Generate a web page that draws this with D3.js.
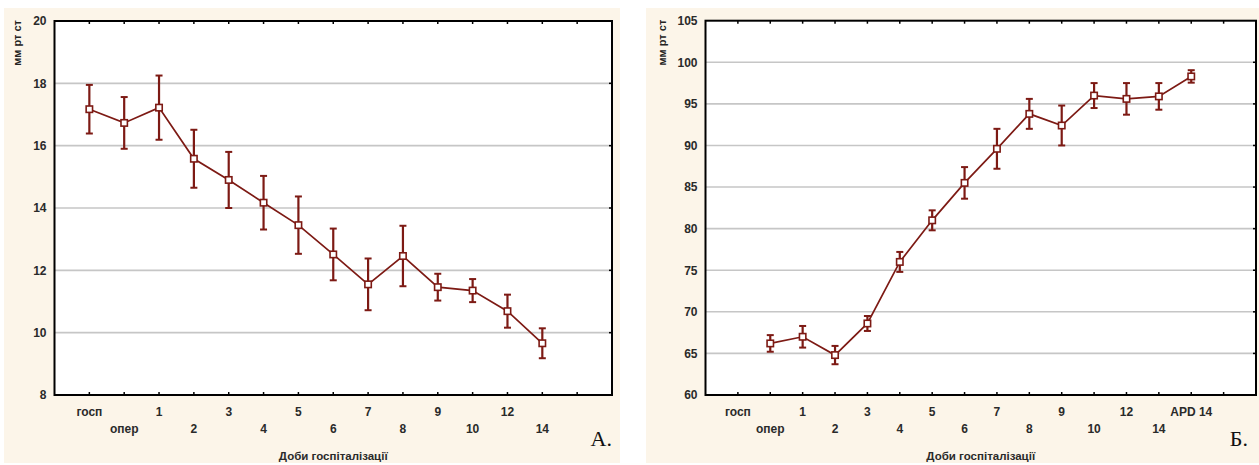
<!DOCTYPE html>
<html><head><meta charset="utf-8">
<script src="https://cdn.jsdelivr.net/npm/d3@7"></script>
<style>
html,body{margin:0;padding:0;background:#fff;}
svg{display:block;}
</style></head>
<body>
<svg id="chart" width="1259" height="465"></svg>
<script>
// ---- Data ----
const categoriesA = ["госп","опер","1","2","3","4","5","6","7","8","9","10","12","14",""];
const meansA  = [17.17,16.73,17.22,15.58,14.90,14.17,13.45,12.51,11.55,12.46,11.46,11.35,10.69,9.66,null];
const errorsA = [0.78,0.83,1.03,0.93,0.90,0.86,0.92,0.83,0.83,0.97,0.43,0.37,0.53,0.48,null];
const yTicksA = [8,10,12,14,16,18,20];

const categoriesB = ["госп","опер","1","2","3","4","5","6","7","8","9","10","12","14","APD 14",""];
const meansB  = [null,66.2,67.0,64.8,68.6,76.0,81.0,85.5,89.6,93.8,92.4,96.0,95.6,95.9,98.3,null];
const errorsB = [null,1.0,1.3,1.1,0.9,1.2,1.2,1.9,2.4,1.8,2.4,1.5,1.9,1.6,0.75,null];
const yTicksB = [60,65,70,75,80,85,90,95,100,105];

const yLabel = "мм рт ст";
const xLabel = "Доби госпіталізації";
const panelLabels = ["А.","Б."];

const svg = d3.select("#chart");
const RED = "#7d1a14";
const SANS = "'Liberation Sans', Arial, sans-serif";
const SERIF = "'Liberation Serif', 'Times New Roman', serif";

function drawPanel(p){
  svg.append("rect").attr("x",p.bg[0]).attr("y",p.bg[1]).attr("width",p.bg[2]).attr("height",p.bg[3]).attr("fill","#fcf5e9");
  const x = d3.scalePoint().domain(p.cats.map((c,i)=>i)).range([p.left,p.right]).padding(1);
  const y = d3.scaleLinear().domain([p.yTicks[0],p.yTicks[p.yTicks.length-1]]).range([p.bottom,p.top]);
  const g = svg.append("g").style("font-family",SANS);
  g.append("rect").attr("x",p.left).attr("y",p.top).attr("width",p.right-p.left).attr("height",p.bottom-p.top).attr("fill","#fff");
  g.selectAll(".grid").data(p.yTicks.slice(1,-1)).join("line")
    .attr("x1",p.left).attr("x2",p.right).attr("y1",d=>y(d)).attr("y2",d=>y(d))
    .attr("stroke","#c6c6c6").attr("stroke-width",1.6);
  const ya = d3.axisLeft(y).tickValues(p.yTicks).tickSize(0).tickPadding(8).tickFormat(d3.format("d"));
  const yg = g.append("g").attr("transform",`translate(${p.left},0)`).call(ya);
  yg.select(".domain").remove();
  yg.selectAll("text").style("font-family",SANS).style("font-size","12px").style("font-weight","bold").attr("fill","#2a2a2a");
  g.selectAll(".rt").data(p.yTicks.slice(1,-1)).join("line")
    .attr("x1",p.right-3).attr("x2",p.right).attr("y1",d=>y(d)).attr("y2",d=>y(d)).attr("stroke","#000").attr("stroke-width",1.5);
  const idx = p.cats.map((c,i)=>i);
  g.selectAll(".bt").data(idx).join("line")
    .attr("x1",d=>x(d)).attr("x2",d=>x(d)).attr("y1",p.bottom).attr("y2",p.bottom-3).attr("stroke","#000").attr("stroke-width",1.5);
  g.selectAll(".tt").data(idx).join("line")
    .attr("x1",d=>x(d)).attr("x2",d=>x(d)).attr("y1",p.top).attr("y2",p.top+3).attr("stroke","#000").attr("stroke-width",1.5);
  g.selectAll(".xl").data(idx.filter(i=>p.cats[i]!=="")).join("text")
    .attr("x",d=>x(d)).attr("y",d=>d%2===0?p.bottom+21:p.bottom+38)
    .attr("text-anchor","middle").style("font-size","12px").style("font-weight","bold").attr("fill","#2a2a2a")
    .text(d=>p.cats[d]);
  g.append("rect").attr("x",p.left).attr("y",p.top).attr("width",p.right-p.left).attr("height",p.bottom-p.top)
    .attr("fill","none").attr("stroke","#000").attr("stroke-width",2);
  g.append("text").attr("transform",`translate(${p.ylabX},${p.top-1}) rotate(-90)`)
    .attr("text-anchor","end").style("font-size","11px").style("font-weight","bold").attr("fill","#222").text(yLabel);
  g.append("text").attr("x",(p.left+p.right)/2).attr("y",p.bottom+65).attr("text-anchor","middle")
    .style("font-size","11.5px").style("font-weight","bold").attr("fill","#2a2a2a").text(xLabel);
  g.append("text").attr("x",p.plx).attr("y",p.bottom+51).attr("text-anchor","end")
    .style("font-family",SERIF).style("font-size","22px").attr("fill","#111").text(p.plabel);
  const pts = idx.filter(i=>p.means[i]!=null).map(i=>({i,m:p.means[i],e:p.errs[i]}));
  const line = d3.line().x(d=>x(d.i)).y(d=>y(d.m));
  g.append("path").datum(pts).attr("d",line).attr("fill","none").attr("stroke",RED).attr("stroke-width",1.7);
  const eb = g.selectAll(".eb").data(pts).join("g");
  eb.append("line").attr("x1",d=>x(d.i)).attr("x2",d=>x(d.i)).attr("y1",d=>y(d.m+d.e)).attr("y2",d=>y(d.m-d.e))
    .attr("stroke",RED).attr("stroke-width",2.2);
  eb.append("line").attr("x1",d=>x(d.i)-3.5).attr("x2",d=>x(d.i)+3.5).attr("y1",d=>y(d.m+d.e)).attr("y2",d=>y(d.m+d.e))
    .attr("stroke",RED).attr("stroke-width",2);
  eb.append("line").attr("x1",d=>x(d.i)-3.5).attr("x2",d=>x(d.i)+3.5).attr("y1",d=>y(d.m-d.e)).attr("y2",d=>y(d.m-d.e))
    .attr("stroke",RED).attr("stroke-width",2);
  eb.append("rect").attr("x",d=>x(d.i)-3.2).attr("y",d=>y(d.m)-3.2).attr("width",6.4).attr("height",6.4)
    .attr("fill","#fff").attr("stroke",RED).attr("stroke-width",1.6);
}

drawPanel({bg:[4,8,616,455],left:54.5,right:612,top:21,bottom:395,cats:categoriesA,means:meansA,errs:errorsA,yTicks:yTicksA,ylabX:21,plabel:panelLabels[0],plx:612});
drawPanel({bg:[646,8,613,455],left:705.5,right:1256,top:20.7,bottom:395,cats:categoriesB,means:meansB,errs:errorsB,yTicks:yTicksB,ylabX:666,plabel:panelLabels[1],plx:1248});
</script>
</body></html>
